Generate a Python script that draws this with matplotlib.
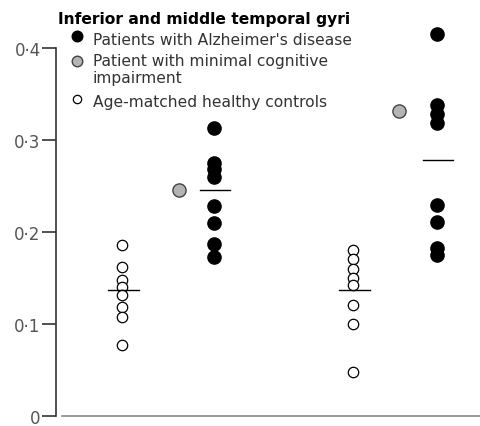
import matplotlib.pyplot as plt
import numpy as np

# values (two regions, three groups each)
controls_a = [0.186, 0.162, 0.148, 0.140, 0.131, 0.118, 0.108, 0.077]
mci_a = [0.245]
ad_a = [0.313, 0.275, 0.268, 0.260, 0.228, 0.210, 0.187, 0.173]
controls_b = [0.180, 0.170, 0.160, 0.150, 0.142, 0.120, 0.100, 0.048]
mci_b = [0.331]
ad_b = [0.415, 0.338, 0.328, 0.318, 0.229, 0.211, 0.182, 0.175]
mean_controls = [0.137, 0.137]
mean_ad = [0.2455, 0.278]
yticks = [0, 0.1, 0.2, 0.3, 0.4]
yticklabels = ["0", "0\u00b71", "0\u00b72", "0\u00b73", "0\u00b74"]

# horizontal positions of the columns (axis units)
x_controls = [0.66, 2.97]
x_mci = [1.23, 3.43]
x_ad = [1.58, 3.81]

plt.rcParams['font.family'] = ['DejaVu Sans']

W, H = 481, 427
fig = plt.figure(figsize=(W / 100, H / 100), dpi=100)
# 0.1 on the y axis is about 92 px; axes nudged up a little so the "0" label fits
ax = fig.add_axes([56 / W, 10 / H, 425 / W, 417 / H])
ax.set_xlim(0, 4.25)
ax.set_ylim(0, 417 / 921)

open_kw = dict(marker='o', ms=7.5, mfc='white', mec='black', mew=0.9, ls='none', zorder=3)
black_kw = dict(marker='o', ms=9.5, mfc='black', mec='black', ls='none', zorder=3)
grey_kw = dict(marker='o', ms=9.5, mfc='#b4b4b4', mec='#444444', mew=1.0, ls='none', zorder=3)

for xc, vals in zip(x_controls, [controls_a, controls_b]):
    ax.plot([xc] * len(vals), vals, **open_kw)
for xm, vals in zip(x_mci, [mci_a, mci_b]):
    ax.plot([xm] * len(vals), vals, **grey_kw)
for xa, vals in zip(x_ad, [ad_a, ad_b]):
    ax.plot([xa] * len(vals), vals, **black_kw)

# group means
for xc, m in zip(x_controls, mean_controls):
    ax.plot([xc - 0.14, xc + 0.17], [m, m], color='black', lw=1.0, zorder=4)
for xa, m in zip(x_ad, mean_ad):
    ax.plot([xa - 0.14, xa + 0.16], [m, m], color='black', lw=1.0, zorder=4)

ax.spines['top'].set_visible(False)
ax.spines['right'].set_visible(False)
ax.spines['left'].set_bounds(0, 0.4)
ax.spines['left'].set_color('#333333')
ax.spines['left'].set_linewidth(1.2)
ax.spines['bottom'].set_bounds(0.06, 4.25)
ax.spines['bottom'].set_color('#888888')
ax.spines['bottom'].set_linewidth(1.2)
ax.set_xticks([])
ax.set_yticks(yticks)
ax.set_yticklabels(yticklabels)
ax.tick_params(axis='y', direction='out', length=10, width=1.2, color='#333333',
               pad=1, labelsize=12, labelcolor='#555555')

# legend drawn by hand
def px(x, y):
    return x / W, 1 - y / H

fig.text(*px(58, 24), "Inferior and middle temporal gyri", fontsize=11.2,
         fontweight='bold', va='baseline', ha='left')
rows = [(37, 45, "Patients with Alzheimer's disease", black_kw),
        (62, 66, "Patient with minimal cognitive", grey_kw),
        (None, 83, "impairment", None),
        (100, 107, "Age-matched healthy controls", open_kw)]
for my, ty, label, kw in rows:
    if kw is not None:
        k = dict(kw)
        k['ms'] = k['ms'] * 0.8
        fig.add_artist(plt.Line2D([77 / W], [1 - my / H], transform=fig.transFigure, **k))
    fig.text(*px(93, ty), label, fontsize=11.2, va='baseline', ha='left', color='#333333')

fig.savefig('out.png', dpi=100)
